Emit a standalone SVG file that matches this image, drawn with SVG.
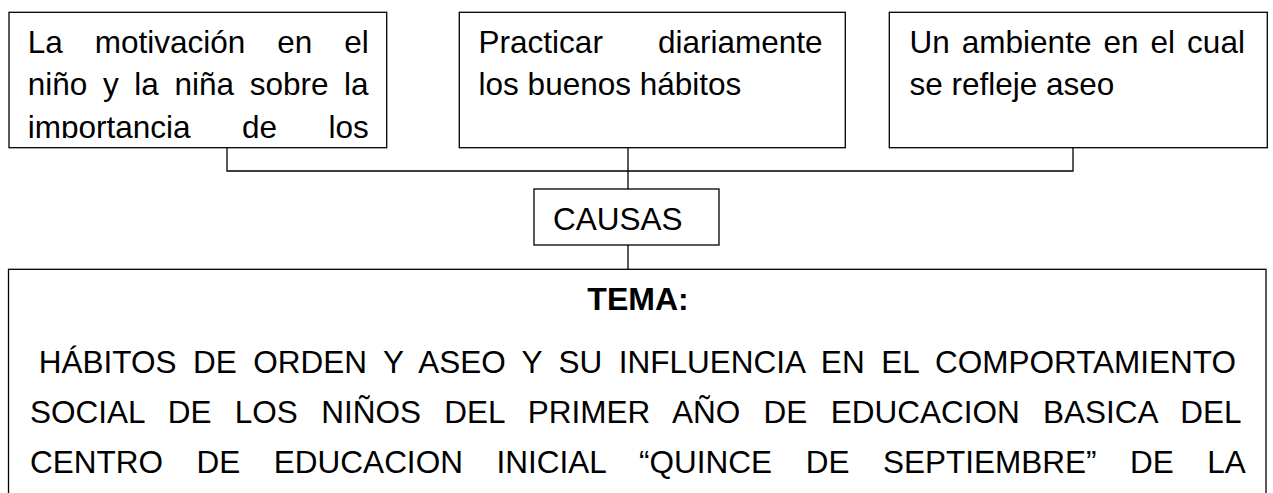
<svg xmlns="http://www.w3.org/2000/svg" width="1273" height="493" viewBox="0 0 1273 493">
<style>
.box{fill:#fff;stroke:#000;stroke-width:1.3}
.ln{fill:none;stroke:#000;stroke-width:1.3}
.t{font-family:"Liberation Sans",Arial,sans-serif;font-size:31.5px;fill:#000}
.h{font-family:"Liberation Sans",Arial,sans-serif;font-size:32px;font-weight:bold;fill:#000}
</style>
<defs>
<clipPath id="c1"><rect x="9" y="12" width="378" height="126"/></clipPath>
</defs>
<rect width="1273" height="493" fill="#fff"/>
<g id="connectors">
<path class="ln" d="M227 148V171H1073V148"/>
<path class="ln" d="M628 148V189"/>
<path class="ln" d="M628 245V269"/>
</g>
<g id="node1">
<rect class="box" x="9" y="12.3" width="377.7" height="135.4"/>
<g clip-path="url(#c1)">
<text class="t" x="27.7" y="53" style="word-spacing:23.2px">La motivación en el</text>
<text class="t" x="27.7" y="95" style="word-spacing:6.9px">niño y la niña sobre la</text>
<text class="t" x="27.7" y="137.5" style="word-spacing:42.7px">importancia de los</text>
</g>
</g>
<g id="node2">
<rect class="box" x="459.3" y="12.3" width="386" height="135.4"/>
<text class="t" x="478.6" y="53" style="word-spacing:46.3px">Practicar diariamente</text>
<text class="t" x="478.6" y="95">los buenos hábitos</text>
</g>
<g id="node3">
<rect class="box" x="889.3" y="12.3" width="378" height="135.4"/>
<text class="t" x="909.5" y="53" style="word-spacing:3.3px">Un ambiente en el cual</text>
<text class="t" x="909.5" y="95">se refleje aseo</text>
</g>
<g id="causas">
<rect class="box" x="534" y="189" width="185" height="56"/>
<text class="t" x="553" y="230">CAUSAS</text>
</g>
<g id="tema">
<rect class="box" x="8.5" y="269.3" width="1257.5" height="260"/>
<text class="h" x="638" y="310" text-anchor="middle">TEMA:</text>
<text class="t" x="38.8" y="373" style="word-spacing:7.75px">HÁBITOS DE ORDEN Y ASEO Y SU INFLUENCIA EN EL COMPORTAMIENTO</text>
<text class="t" x="30" y="423" style="word-spacing:14.6px">SOCIAL DE LOS NIÑOS DEL PRIMER AÑO DE EDUCACION BASICA DEL</text>
<text class="t" x="30" y="473" style="word-spacing:24.8px">CENTRO DE EDUCACION INICIAL “QUINCE DE SEPTIEMBRE” DE LA</text>
</g>
</svg>
